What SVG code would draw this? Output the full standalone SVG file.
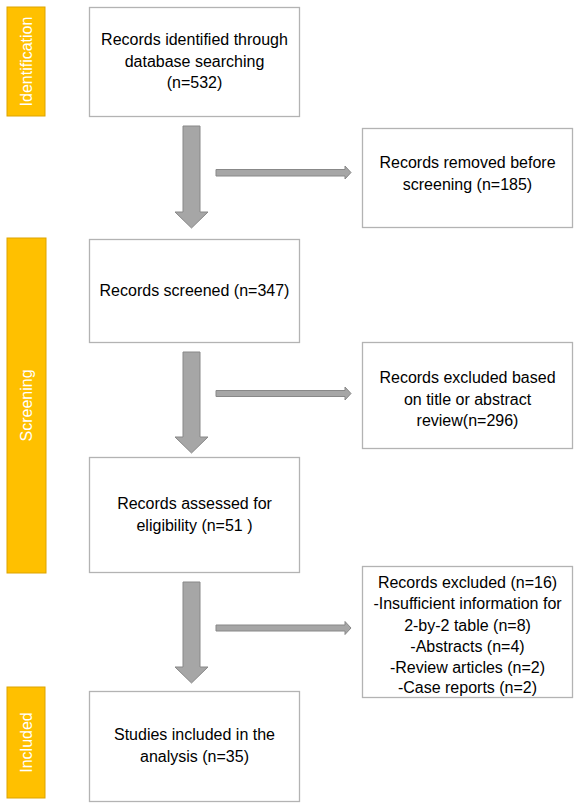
<svg xmlns="http://www.w3.org/2000/svg" width="579" height="807" viewBox="0 0 579 807">
<style>
.box{fill:#FFFFFF;stroke:#B3B3B3;stroke-width:1.3}
.bar{fill:#FFC000;stroke:#DDA400;stroke-width:1}
.arr{fill:#A6A6A6;stroke:#888888;stroke-width:1}
.t{font-family:"Liberation Sans",Arial,sans-serif;font-size:16px;fill:#000000;text-anchor:middle}
.s{font-family:"Liberation Sans",Arial,sans-serif;font-size:16px;fill:#FFFFFF;text-anchor:middle}
</style>
<rect x="0" y="0" width="579" height="807" fill="#FFFFFF"/>
<g id="phase-identification">
<rect class="bar" x="7" y="7" width="38" height="109"/>
<text class="s" transform="translate(32,61.5) rotate(-90)">Identification</text>
</g>
<g id="phase-screening">
<rect class="bar" x="7" y="238" width="39" height="335"/>
<text class="s" transform="translate(32,405.5) rotate(-90)">Screening</text>
</g>
<g id="phase-included">
<rect class="bar" x="7" y="687" width="38" height="111"/>
<text class="s" transform="translate(32,742.5) rotate(-90)">Included</text>
</g>
<g id="node-identified">
<rect class="box" x="89.5" y="7.5" width="210" height="109"/>
<text class="t" x="194.5" y="45">Records identified through</text>
<text class="t" x="194.5" y="67">database searching</text>
<text class="t" x="194.5" y="88">(n=532)</text>
</g>
<g id="node-removed">
<rect class="box" x="362.5" y="128.5" width="210" height="99"/>
<text class="t" x="467.5" y="168">Records removed before</text>
<text class="t" x="467.5" y="190">screening (n=185)</text>
</g>
<g id="node-screened">
<rect class="box" x="89.5" y="239.5" width="210" height="103"/>
<text class="t" x="194.5" y="296">Records screened (n=347)</text>
</g>
<g id="node-excluded-title">
<rect class="box" x="362.5" y="342.5" width="210" height="106"/>
<text class="t" x="467.5" y="383">Records excluded based</text>
<text class="t" x="467.5" y="405">on title or abstract</text>
<text class="t" x="467.5" y="426">review(n=296)</text>
</g>
<g id="node-assessed">
<rect class="box" x="89.5" y="457.5" width="210" height="115"/>
<text class="t" x="194.5" y="509">Records assessed for</text>
<text class="t" x="194.5" y="531">eligibility (n=51 )</text>
</g>
<g id="node-excluded-full">
<rect class="box" x="362.5" y="566.5" width="210" height="131"/>
<text class="t" x="467.5" y="588">Records excluded (n=16)</text>
<text class="t" x="467.5" y="609">-Insufficient information for</text>
<text class="t" x="467.5" y="630.5">2-by-2 table (n=8)</text>
<text class="t" x="467.5" y="651.5">-Abstracts (n=4)</text>
<text class="t" x="467.5" y="672.5">-Review articles (n=2)</text>
<text class="t" x="467.5" y="693">-Case reports (n=2)</text>
</g>
<g id="node-included">
<rect class="box" x="89.5" y="691.5" width="210" height="110"/>
<text class="t" x="194.5" y="740">Studies included in the</text>
<text class="t" x="194.5" y="762">analysis (n=35)</text>
</g>
<g id="connectors">
<polygon class="arr" points="183,126 200,126 200,212 208,212 191.5,228 175,212 183,212"/>
<polygon class="arr" points="216,169.5 345,169.5 345,166 351,172.5 345,179 345,176 216,176"/>
<polygon class="arr" points="183,352 200,352 200,437 208,437 191.5,453 175,437 183,437"/>
<polygon class="arr" points="216,390.5 345,390.5 345,387 351,393.5 345,400 345,396.5 216,396.5"/>
<polygon class="arr" points="183,582 200,582 200,667 208,667 191.5,683 175,667 183,667"/>
<polygon class="arr" points="216,625 345,625 345,621.5 351,628 345,634.5 345,631 216,631"/>
</g>
</svg>
